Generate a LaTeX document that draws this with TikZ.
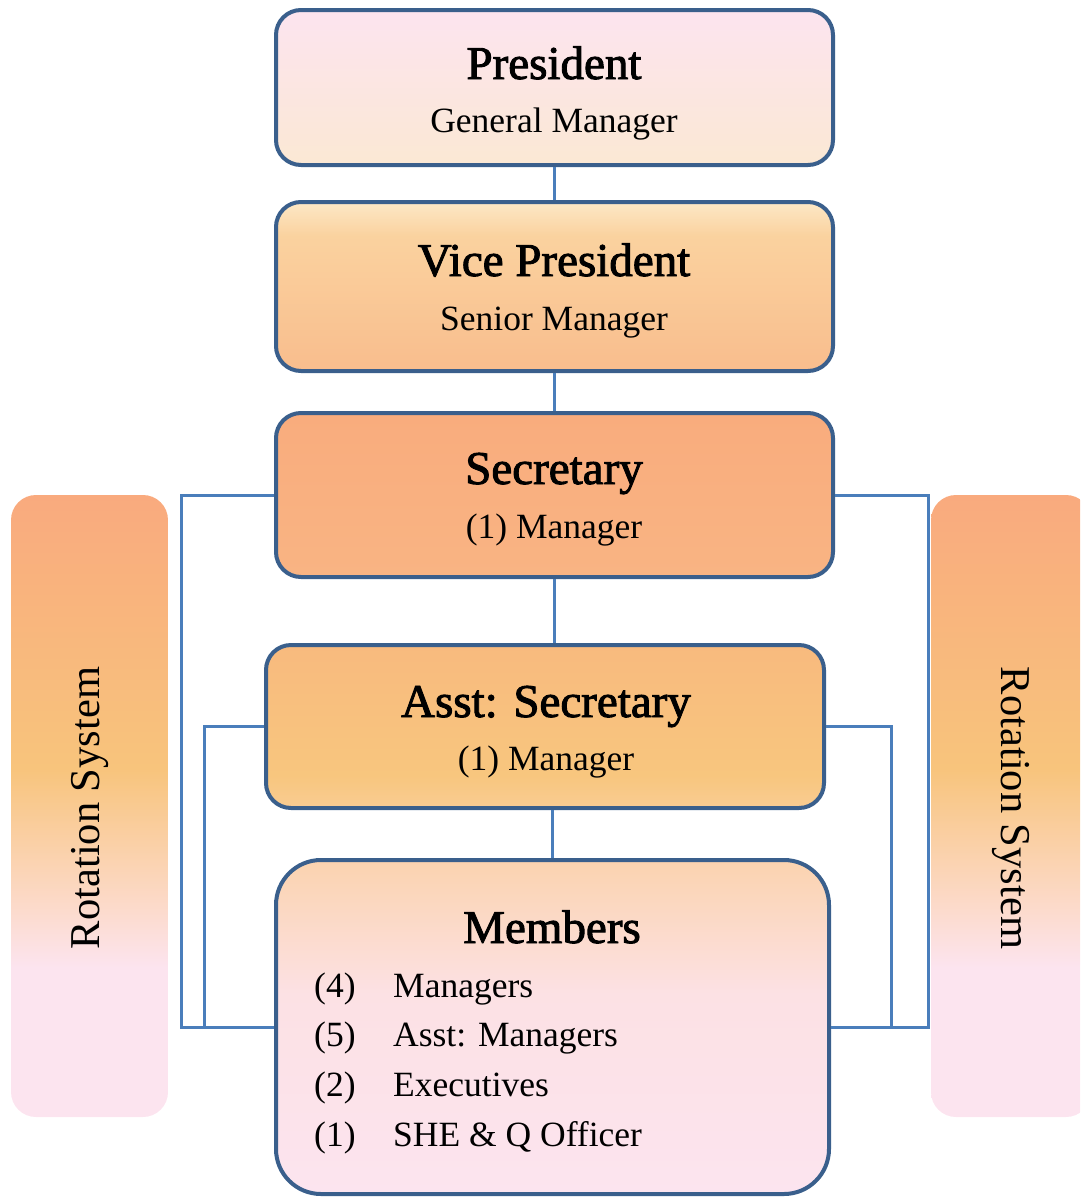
\documentclass[tikz,border=0pt]{standalone}
\usepackage{fontspec}
\setmainfont{Liberation Serif}
\newfontfamily\titlef{Liberation Serif}[FakeBold=2]
\definecolor{bord}{HTML}{3A5F8C}
\definecolor{conn}{HTML}{4A7EBB}
\definecolor{pinkc}{HTML}{FCE4EF}
\definecolor{peachc}{HTML}{FBE8D4}
\definecolor{vpT}{HTML}{FDE8C6}
\definecolor{vpM}{HTML}{FAD29F}
\definecolor{vpB}{HTML}{F9BD8D}
\definecolor{secT}{HTML}{F9AC7D}
\definecolor{secB}{HTML}{F9B483}
\definecolor{asT}{HTML}{F8BA7E}
\definecolor{asM}{HTML}{F8C67E}
\definecolor{asB}{HTML}{F9CC92}
\definecolor{memT}{HTML}{FBD3AF}
\definecolor{memM}{HTML}{FCE1E4}
\definecolor{rotT}{HTML}{F9AA7E}
\definecolor{rotM}{HTML}{F8C47C}
\definecolor{rotL}{HTML}{FCDACA}
\pgfdeclareverticalshading{presS}{100bp}{color(0bp)=(peachc); color(25bp)=(peachc); color(75bp)=(pinkc); color(100bp)=(pinkc)}
\pgfdeclareverticalshading{vpS}{100bp}{color(0bp)=(vpB); color(25bp)=(vpB); color(65bp)=(vpM); color(75bp)=(vpT); color(100bp)=(vpT)}
\pgfdeclareverticalshading{secS}{100bp}{color(0bp)=(secB); color(25bp)=(secB); color(75bp)=(secT); color(100bp)=(secT)}
\pgfdeclareverticalshading{asS}{100bp}{color(0bp)=(asB); color(25bp)=(asB); color(35bp)=(asM); color(75bp)=(asT); color(100bp)=(asT)}
\pgfdeclareverticalshading{memS}{100bp}{color(0bp)=(pinkc); color(25bp)=(pinkc); color(55bp)=(memM); color(75bp)=(memT); color(100bp)=(memT)}
\pgfdeclareverticalshading{rotS}{100bp}{color(0bp)=(pinkc); color(25bp)=(pinkc); color(37bp)=(pinkc); color(42bp)=(rotL); color(53bp)=(rotM); color(75bp)=(rotT); color(100bp)=(rotT)}
\tikzset{
  box/.style={draw=bord, line width=4pt, rounded corners=25pt, inner sep=0pt},
  rotbox/.style={rounded corners=25pt, inner sep=0pt, shading=rotS},
  conn/.style={draw=conn, line width=3pt},
  ttl/.style={anchor=base, inner sep=0pt, font=\titlef\fontsize{47}{50}\selectfont},
  sub/.style={anchor=base, inner sep=0pt, font=\fontsize{35.5}{40}\selectfont},
  item/.style={anchor=base west, inner sep=0pt, font=\fontsize{35.5}{40}\selectfont},
  rot/.style={inner sep=0pt, font=\fontsize{42.5}{46}\selectfont},
}
\begin{document}
\begin{tikzpicture}[x=1pt,y=-1pt]
\useasboundingbox (0,0) rectangle (1080,1197);
\clip (0,0) rectangle (1080,1197);
% rotation side boxes
\node[rotbox, minimum width=157pt, minimum height=622pt] (rotL) at (89.5,806) {};
\node[rotbox, minimum width=160pt, minimum height=622pt] (rotR) at (1011,806) {};
\node[rot, rotate=90] (rotLt) at (90,808) {Rotation System};
\node[rot, rotate=-90] (rotRt) at (1011,808) {Rotation System};
% main boxes
\node[box, shading=presS, minimum width=557pt, minimum height=155pt] (pres) at (554.5,87.5) {};
\node[box, shading=vpS, minimum width=557pt, minimum height=169pt] (vp) at (554.5,286.5) {};
\node[box, shading=secS, minimum width=557pt, minimum height=164pt] (sec) at (554.5,495) {};
\node[box, shading=asS, minimum width=558pt, minimum height=163pt] (ast) at (545,726.5) {};
\node[box, shading=memS, rounded corners=45pt, minimum width=553pt, minimum height=334pt] (mem) at (552.5,1027) {};
% connectors
\draw[conn] (pres.south) -- (vp.north);
\draw[conn] (vp.south) -- (sec.north);
\draw[conn] (sec.south) -- (sec.south |- ast.north);
\draw[conn] (mem.north |- ast.south) -- (mem.north);
\coordinate (lo) at (181,0);
\coordinate (li) at (204,0);
\coordinate (ro) at (928,0);
\coordinate (ri) at (891,0);
\draw[conn] (sec.west) -| (lo |- mem.west) -- (mem.west);
\draw[conn] (ast.west) -| (li |- mem.west) -- (mem.west);
\draw[conn] (sec.east) -| (ro |- mem.east) -- (mem.east);
\draw[conn] (ast.east) -| (ri |- mem.east) -- (mem.east);
% texts
\node[ttl] (presT) at (554,79) {President};
\node[sub] (presS) at (554,132) {General Manager};
\node[ttl] (vpT) at (554,276) {Vice President};
\node[sub] (vpS) at (554,330) {Senior Manager};
\node[ttl] (secT) at (554,484) {Secretary};
\node[sub] (secS) at (554,538) {(1) Manager};
\node[ttl] (asT) at (546,717) {Asst: Secretary};
\node[sub] (asS) at (546,770) {(1) Manager};
\node[ttl] (memT) at (552,943) {Members};
\node[item] (n1) at (314,997) {(4)};
\node[item] (l1) at (393,997) {Managers};
\node[item] (n2) at (314,1046) {(5)};
\node[item] (l2) at (393,1046) {Asst: Managers};
\node[item] (n3) at (314,1096) {(2)};
\node[item] (l3) at (393,1096) {Executives};
\node[item] (n4) at (314,1146) {(1)};
\node[item] (l4) at (393,1146) {SHE \& Q Officer};
\end{tikzpicture}
\end{document}
